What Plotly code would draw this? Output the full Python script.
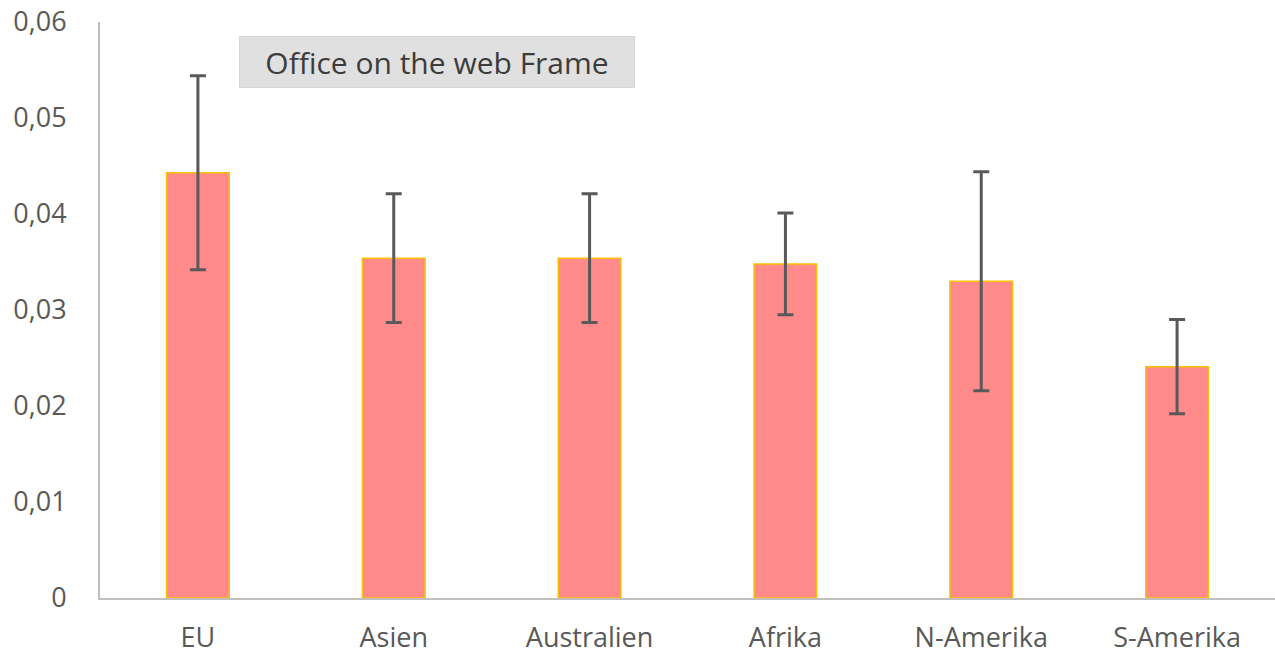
import plotly.graph_objects as go

regions = ["EU", "Asien", "Australien", "Afrika", "N-Amerika", "S-Amerika"]
means = [0.0443, 0.0354, 0.0354, 0.0348, 0.0330, 0.0241]
errors = [0.0101, 0.0067, 0.0067, 0.0053, 0.0114, 0.0049]
y_ticks = [0, 0.01, 0.02, 0.03, 0.04, 0.05, 0.06]
y_tick_labels = ["0", "0,01", "0,02", "0,03", "0,04", "0,05", "0,06"]

AXIS_GREY = "#bfbfbf"
TEXT_GREY = "#595959"

fig = go.Figure()
fig.add_trace(
    go.Bar(
        x=regions,
        y=means,
        width=0.32,
        marker=dict(color="#ff8a8a", line=dict(color="#ffc000", width=1.5)),
        error_y=dict(
            type="data",
            array=errors,
            visible=True,
            color=TEXT_GREY,
            thickness=3,
            width=8,
        ),
    )
)

fig.update_layout(
    width=1275,
    height=657,
    margin=dict(l=100, r=0, t=22, b=59, autoexpand=False),
    plot_bgcolor="white",
    paper_bgcolor="white",
    showlegend=False,
    font=dict(family="Open Sans", size=27, color=TEXT_GREY),
    annotations=[
        dict(
            text="Office on the web Frame",
            xref="paper",
            yref="paper",
            x=(437 - 100) / 1175,
            y=(598 - 62) / 576,
            xanchor="center",
            yanchor="middle",
            width=390,
            height=46,
            align="center",
            showarrow=False,
            font=dict(size=30, color="#3c3c3c"),
            bgcolor="#e0e0e0",
            bordercolor="#d6d6d6",
            borderwidth=1,
            borderpad=2,
        )
    ],
)
fig.update_xaxes(
    showline=True,
    linecolor=AXIS_GREY,
    linewidth=2,
    showgrid=False,
    ticks="",
    ticklabelstandoff=15,
    range=[-0.5, 5.5],
    automargin=False,
)
fig.update_yaxes(
    range=[0, 0.06],
    tickvals=y_ticks,
    ticktext=y_tick_labels,
    showline=True,
    linecolor=AXIS_GREY,
    linewidth=2,
    showgrid=False,
    zeroline=False,
    ticks="",
    ticklabelstandoff=26,
    ticklabeloverflow="allow",
    automargin=False,
)

# drop the browser's default body margin so the figure fills the window
fig.write_html(
    "out.html",
    config={"displayModeBar": False},
    post_script="document.body.style.margin = '0';",
)
